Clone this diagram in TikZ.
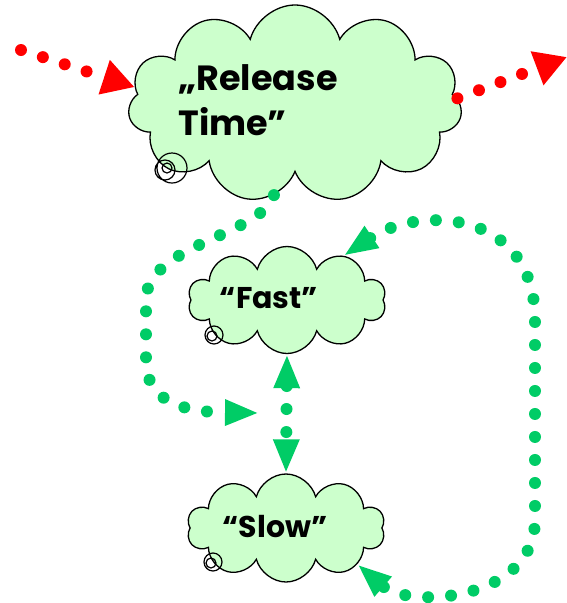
\documentclass[tikz,border=0pt]{standalone}
\usepackage{fontspec}
\setmainfont{Poppins}
\usetikzlibrary{shapes.symbols,arrows.meta}
\definecolor{cloudfill}{HTML}{CCFFCC}
\definecolor{dotgreen}{HTML}{00CC66}
\definecolor{dotred}{HTML}{FF0000}
\tikzset{
  puff/.style={cloud, cloud puffs=#1, cloud ignores aspect, draw=black,
    line width=1.3pt, fill=cloudfill, inner sep=0pt},
  dotline/.style={draw=#1, line width=12pt, line cap=round,
    dash pattern=on 0pt off 23pt},
  curl/.style={draw=black, line width=1.2pt},
  word/.style={font=\bfseries\fontsize{#1}{45}\selectfont, align=left},
  redtip/.tip={Triangle[length=32pt,width=34pt]},
  greentip/.tip={Triangle[length=34pt,width=24pt]}
}
\begin{document}
\begin{tikzpicture}[x=1pt,y=1pt]
  \useasboundingbox (0,0) rectangle (567,-603);
  % clouds
  \node[puff=11, minimum width=334pt, minimum height=198pt] (release) at (295,-104) {};
  \node[puff=10, minimum width=198pt, minimum height=107pt] (fast) at (287,-300) {};
  \node[puff=10, minimum width=198pt, minimum height=108pt] (slow) at (286,-528) {};
  \node[word=35] (reltext) at (258,-100) {„Release\\Time”};
  \node[word=30] (fasttext) at (269,-298) {“Fast”};
  \node[word=30] (slowtext) at (275,-527) {“Slow”};
  % little curls
  \draw[curl] (172,-168) circle[radius=15pt] (165,-170) circle[radius=10pt]
    (167,-168) circle[radius=5pt];
  \draw[curl] (214,-335) circle[radius=9pt] (212,-336) circle[radius=5pt];
  \draw[curl] (213,-562) circle[radius=9pt] (211,-563) circle[radius=5pt];
  % connectors
  \coordinate (redin) at (21,-50);
  \coordinate (redout) at (567,-57);
  \coordinate (mid) at (259,-413);
  \draw[dotline=dotred, -redtip] (redin) -- (release.174);
  \draw[dotline=dotred, -redtip] (release.2) -- (redout);
  \draw[dotline=dotgreen, -greentip] (release.257)
    .. controls (262,-235) and (146,-245) .. (146,-300) -- (146,-360)
    .. controls (146,-400) and (180,-412) .. (mid);
  \draw[dotline=dotgreen, greentip-greentip] (fast.south) -- (slow.north);
  \draw[dotline=dotgreen, greentip-greentip] (fast.38)
    .. controls (420,-205) and (535,-210) .. (535,-320) -- (535,-520)
    .. controls (535,-600) and (410,-610) .. (slow.-27);
\end{tikzpicture}
\end{document}
